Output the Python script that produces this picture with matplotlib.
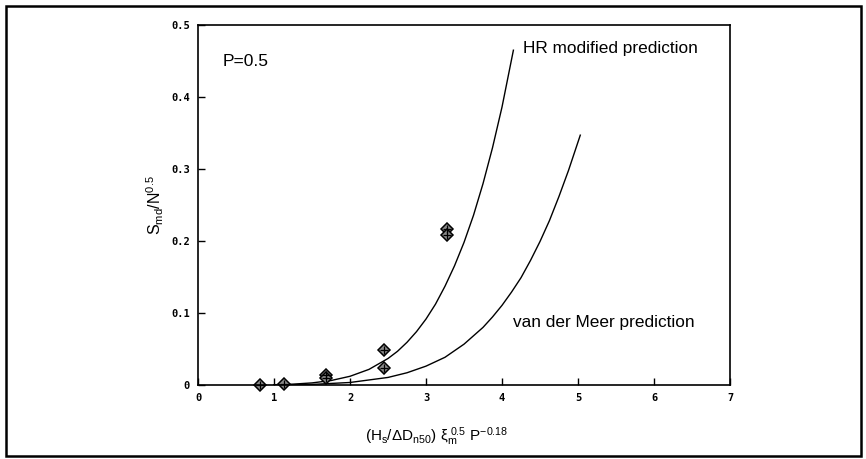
import matplotlib
matplotlib.use("Agg")
import matplotlib.pyplot as plt
from matplotlib.patches import Rectangle

plt.rcParams['mathtext.fontset'] = 'custom'
plt.rcParams['mathtext.rm'] = 'Liberation Sans'
plt.rcParams['mathtext.it'] = 'Liberation Sans'
plt.rcParams['font.family'] = 'Liberation Sans'

# measured points
obs_x = [0.82, 1.13, 1.69, 1.69, 2.45, 2.45, 3.28, 3.28]
obs_y = [0.0, 0.002, 0.014, 0.010, 0.049, 0.023, 0.216, 0.208]

# HR modified prediction
hr_x = [1.0, 1.25, 1.5, 1.75, 2.0, 2.25, 2.5, 2.625, 2.75, 2.875, 3.0, 3.125, 3.25,
        3.375, 3.5, 3.625, 3.75, 3.875, 4.0, 4.15]
hr_y = [0.0004, 0.0012, 0.0029, 0.0062, 0.0121, 0.0217, 0.0368, 0.0468, 0.0593,
        0.0741, 0.0916, 0.1123, 0.1372, 0.1655, 0.1980, 0.2357, 0.2796, 0.3295,
        0.386, 0.465]

# van der Meer prediction
vdm_x = [1.0, 1.5, 2.0, 2.5, 2.75, 3.0, 3.25, 3.5, 3.75, 3.875, 4.0, 4.125, 4.25,
         4.375, 4.5, 4.625, 4.75, 4.875, 5.0, 5.03]
vdm_y = [0.0001, 0.0008, 0.0035, 0.0105, 0.0170, 0.0262, 0.0385, 0.0567, 0.0800,
         0.0945, 0.1106, 0.1290, 0.1490, 0.1730, 0.1993, 0.2285, 0.2620, 0.2980,
         0.3375, 0.347]

xticks = [0, 1, 2, 3, 4, 5, 6, 7]
yticks = [0, 0.1, 0.2, 0.3, 0.4, 0.5]
ytick_labels = ['0', '0.1', '0.2', '0.3', '0.4', '0.5']

fig = plt.figure(figsize=(8.66, 4.59), dpi=100)
ax = fig.add_axes([198 / 866, 1 - 385 / 459, 532 / 866, 360 / 459])

ax.plot(hr_x, hr_y, color='black', lw=1.0)
ax.plot(vdm_x, vdm_y, color='black', lw=1.0)
ax.plot(obs_x, obs_y, linestyle='none', marker='D', markersize=6,
        markerfacecolor='#8a8a8a', markeredgecolor='black', markeredgewidth=1.1, clip_on=False)
ax.plot(obs_x, obs_y, linestyle='none', marker='+', markersize=6,
        color='black', markeredgewidth=0.9, clip_on=False)

ax.set_xlim(0, 7)
ax.set_ylim(0, 0.5)
ax.set_xticks(xticks)
ax.set_yticks(yticks)
ax.set_yticklabels(ytick_labels)
ax.tick_params(direction='in', length=5, width=1, top=False, right=False,
               labelsize=7.5, pad=6)
for lab in ax.get_xticklabels() + ax.get_yticklabels():
    lab.set_family('DejaVu Sans Mono')
    lab.set_weight('bold')
for sp in ax.spines.values():
    sp.set_linewidth(1.2)

ax.text(0.32, 0.449, 'P=0.5', fontsize=12.5, va='center')
ax.text(4.28, 0.468, 'HR modified prediction', fontsize=12.4, va='center')
ax.text(4.14, 0.0875, 'van der Meer prediction', fontsize=12.4, va='center')

fig.text(155 / 866, 1 - 205 / 459, r'$\mathregular{S_{md}/N^{0.5}}$', rotation=90,
         ha='center', va='center', fontsize=11.5)
fig.text(437 / 866, 1 - 437 / 459,
         r'$\mathregular{(H_s/\Delta D_{n50})\ \xi_m^{\ 0.5}\ P^{-0.18}}$',
         ha='center', va='center', fontsize=11)

fig.patches.append(Rectangle((6 / 866, 3 / 459), 855 / 866, 450 / 459,
                             transform=fig.transFigure, fill=False,
                             edgecolor='black', linewidth=1.8))

fig.savefig('out.png', dpi=100)
